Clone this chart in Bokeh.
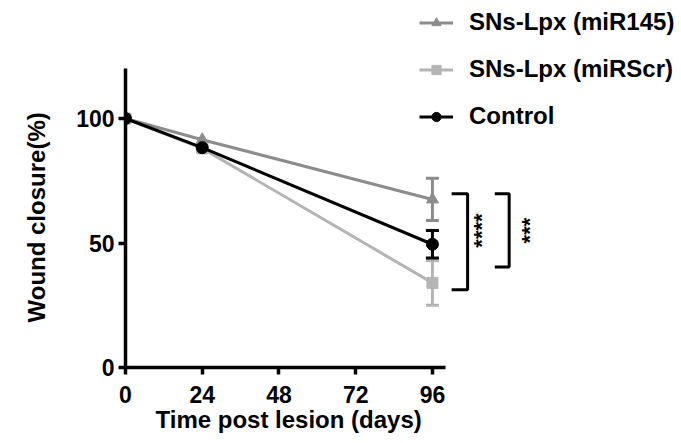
import math
from bokeh.plotting import figure
from bokeh.models import Legend, LegendItem, FixedTicker, ColumnDataSource, Whisker, Title
from bokeh.core.properties import value
from bokeh.embed import file_html
from bokeh.resources import INLINE

# ---- data ----
days = [0, 24, 96]
mir145 = [100, 91.5, 67.5]
mir145_err = [0, 0, 8.5]
mirscr = [100, 88.0, 34.0]
mirscr_err = [0, 0, 9.0]
control = [100, 88.3, 49.5]
control_err = [0, 0, 5.5]
x_ticks = [0, 24, 48, 72, 96]
y_ticks = [0, 50, 100]

# significance brackets (data coords)
br1_x = [102, 107, 107, 102]
br1_y = [69.8, 69.8, 31.2, 31.2]
br2_x = [115.5, 120, 120, 115.5]
br2_y = [69.8, 69.8, 40.4, 40.4]
stars = ["****", "***"]
stars_x = [111.5, 126.5]
stars_y = [55, 55]

FONT = "Liberation Sans"
C145 = "#8c8c8c"
CSCR = "#b4b4b4"
CCTL = "#000000"

p = figure(width=681, height=443, x_range=(0, 173.9), y_range=(0, 147.4),
           output_backend="svg", toolbar_location=None,
           min_border_left=125, min_border_right=0, min_border_top=0,
           min_border_bottom=76)
p.outline_line_color = None
p.grid.visible = False

for ax in (p.xaxis, p.yaxis):
    ax.axis_line_width = 3.5
    ax.axis_line_color = "black"
    ax.major_tick_line_width = 3.5
    ax.major_tick_line_color = "black"
    ax.major_tick_out = 7
    ax.major_tick_in = 0
    ax.minor_tick_line_color = None
    ax.major_label_text_font = FONT
    ax.major_label_text_font_style = "bold"
    ax.major_label_text_font_size = "23px"
    ax.major_label_text_color = "black"

p.xaxis.ticker = FixedTicker(ticks=x_ticks)
p.yaxis.ticker = FixedTicker(ticks=y_ticks)
p.xaxis.bounds = (0, 100)
p.yaxis.bounds = (0, 120)
p.xaxis.major_label_standoff = 11
p.yaxis.major_label_standoff = 4

xtitle = Title(text="Time post lesion (days)", align="left", offset=30,
               vertical_align="top", standoff=0, text_font=FONT,
               text_font_style="bold", text_font_size="24px", text_color="black")
ytitle = Title(text="Wound closure(%)", align="left", offset=45,
               vertical_align="top", standoff=43, text_font=FONT,
               text_font_style="bold", text_font_size="24px", text_color="black")
p.add_layout(xtitle, "below")
p.add_layout(ytitle, "left")


def series(y, err, color, marker, size):
    up = [a + e for a, e in zip(y, err)]
    lo = [a - e for a, e in zip(y, err)]
    src = ColumnDataSource(dict(x=[d for d, e in zip(days, err) if e > 0],
                                up=[u for u, e in zip(up, err) if e > 0],
                                lo=[l for l, e in zip(lo, err) if e > 0]))
    w = Whisker(source=src, base="x", upper="up", lower="lo", dimension="height",
                line_color=color, line_width=3)
    w.upper_head.size = 13
    w.lower_head.size = 13
    w.upper_head.line_color = color
    w.lower_head.line_color = color
    w.upper_head.line_width = 3
    w.lower_head.line_width = 3
    p.add_layout(w)
    l = p.line(days, y, line_color=color, line_width=3)
    m = p.scatter(days, y, marker=marker, size=size, fill_color=color, line_color=color)
    return l, m


r145 = series(mir145, mir145_err, C145, "triangle", 12)
rscr = series(mirscr, mirscr_err, CSCR, "square", 11)
rctl = series(control, control_err, CCTL, "circle", 12)

# brackets
p.line(br1_x, br1_y, line_color="black", line_width=3)
p.line(br2_x, br2_y, line_color="black", line_width=3)
p.text(stars_x, stars_y, text=stars, angle=math.pi / 2, text_align="center",
       text_baseline="middle", text_font=value(FONT), text_font_style="bold",
       text_font_size="22px", text_color="black")

legend = Legend(items=[
    LegendItem(label="SNs-Lpx (miR145)", renderers=list(r145)),
    LegendItem(label="SNs-Lpx (miRScr)", renderers=list(rscr)),
    LegendItem(label="Control", renderers=list(rctl)),
], location=(294, 237))
legend.label_text_font = FONT
legend.label_text_font_style = "bold"
legend.label_text_font_size = "24px"
legend.label_text_color = "black"
legend.glyph_width = 34
legend.glyph_height = 23
legend.label_height = 23
legend.label_standoff = 16
legend.spacing = 19
legend.padding = 0
legend.margin = 0
legend.border_line_color = None
legend.background_fill_alpha = 0
p.add_layout(legend, "center")

open("out.html", "w").write(file_html(p, INLINE))
